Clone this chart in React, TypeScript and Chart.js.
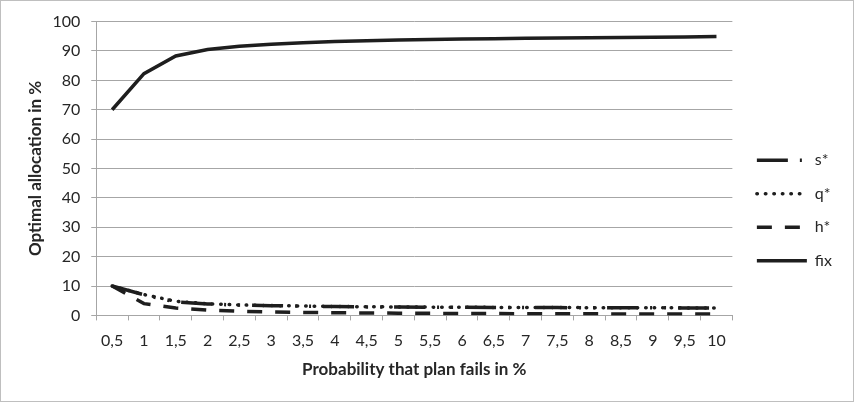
import React, { useEffect, useRef } from 'react';
import { Chart, registerables } from 'chart.js';

Chart.register(...registerables);

const categories = ['0,5', '1', '1,5', '2', '2,5', '3', '3,5', '4', '4,5', '5', '5,5', '6', '6,5', '7', '7,5', '8', '8,5', '9', '9,5', '10'];
const sValues = [10, 7.0, 4.6, 3.9, 3.5, 3.3, 3.15, 3.0, 2.9, 2.85, 2.8, 2.75, 2.7, 2.68, 2.65, 2.62, 2.6, 2.57, 2.55, 2.52];
const qValues = [10, 7.1, 4.8, 3.95, 3.55, 3.35, 3.2, 3.05, 2.95, 2.88, 2.82, 2.77, 2.73, 2.7, 2.67, 2.64, 2.61, 2.58, 2.56, 2.53];
const hValues = [10, 4.0, 2.5, 1.8, 1.4, 1.15, 1.0, 0.9, 0.82, 0.76, 0.7, 0.66, 0.62, 0.59, 0.56, 0.53, 0.51, 0.49, 0.47, 0.45];
const fixValues = [70, 82.3, 88.3, 90.5, 91.6, 92.3, 92.8, 93.2, 93.5, 93.7, 93.9, 94.05, 94.2, 94.3, 94.4, 94.5, 94.6, 94.7, 94.8, 94.9];
const yTicks = [0, 10, 20, 30, 40, 50, 60, 70, 80, 90, 100];

const LINE = '#1e1e1e';
const GRID = '#a6a6a6';
const TEXT = '#262626';
const FONT = 'Lato, "Open Sans", sans-serif';

const legendShift = {
  id: 'legendShift',
  afterLayout(chart: any) {
    const lg = chart.legend;
    if (!lg) return;
    const dx = 7;
    const dy = 16;
    lg.left += dx;
    lg.right += dx;
    lg.top += dy;
    lg.bottom += dy;
  },
};

export default function App() {
  const ref = useRef<HTMLCanvasElement>(null);
  useEffect(() => {
    document.body.style.margin = '0';
    const chart = new Chart(ref.current!, {
      type: 'line',
      data: {
        labels: categories,
        datasets: [
          { label: 's*', data: sValues, borderColor: LINE, backgroundColor: LINE, borderWidth: 3.5, borderDash: [31, 12, 2, 12, 2, 12], borderCapStyle: 'butt', pointRadius: 0, tension: 0 },
          { label: 'q*', data: qValues, borderColor: LINE, backgroundColor: LINE, borderWidth: 3.5, borderDash: [0.5, 8], borderCapStyle: 'round', pointRadius: 0, tension: 0 },
          { label: 'h*', data: hValues, borderColor: LINE, backgroundColor: LINE, borderWidth: 3.5, borderDash: [15, 13], borderCapStyle: 'butt', pointRadius: 0, tension: 0 },
          { label: 'fix', data: fixValues, borderColor: LINE, backgroundColor: LINE, borderWidth: 3.5, borderDash: [], borderCapStyle: 'butt', pointRadius: 0, tension: 0 },
        ],
      },
      options: {
        animation: false,
        responsive: true,
        maintainAspectRatio: false,
        layout: { padding: { left: 20, right: 18, top: 8, bottom: 21 } },
        plugins: {
          tooltip: { enabled: false },
          legend: {
            position: 'right',
            labels: {
              usePointStyle: true,
              pointStyle: 'line',
              pointStyleWidth: 50,
              padding: 17.5,
              color: TEXT,
              font: { family: FONT, size: 16 },
              generateLabels: (c: any) =>
                Chart.defaults.plugins.legend.labels.generateLabels(c).map((item: any) => {
                  const ds: any = c.data.datasets[item.datasetIndex];
                  return { ...item, lineDash: ds.borderDash, lineCap: ds.borderCapStyle, lineWidth: 3.5, strokeStyle: LINE, fillStyle: LINE, pointStyle: 'line' };
                }),
            },
          },
        },
        scales: {
          x: {
            offset: true,
            grid: { offset: true, drawOnChartArea: false, drawTicks: true, tickLength: 5, color: GRID },
            border: { display: true, color: GRID, width: 1 },
            ticks: { color: TEXT, font: { family: FONT, size: 16 }, padding: 11, maxRotation: 0, autoSkip: false },
            title: { display: true, text: 'Probability that plan fails in %', color: TEXT, font: { family: FONT, size: 17, weight: 'bold' }, padding: { top: -2, bottom: 0 } },
          },
          y: {
            min: 0,
            max: 100,
            afterBuildTicks: (axis: any) => { axis.ticks = yTicks.map((v) => ({ value: v })); },
            grid: { color: GRID, tickLength: 5, drawTicks: true },
            border: { display: true, color: GRID, width: 1 },
            ticks: { color: TEXT, font: { family: FONT, size: 16 }, padding: 11 },
            title: { display: true, text: 'Optimal allocation in %', color: TEXT, font: { family: FONT, size: 17, weight: 'bold' }, padding: { top: 4, bottom: -4 } },
          },
        },
      },
      plugins: [legendShift],
    });
    return () => chart.destroy();
  }, []);
  return (
    <div style={{ width: 854, height: 402, boxSizing: 'border-box', border: '1px solid #bfbfbf', background: '#fff' }}>
      <div style={{ position: 'relative', width: 852, height: 400 }}>
        <canvas ref={ref} />
      </div>
    </div>
  );
}
